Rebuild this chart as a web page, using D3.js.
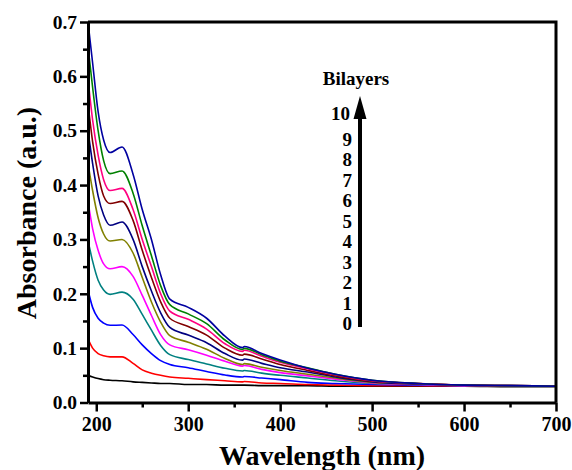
<!DOCTYPE html>
<html>
<head>
<meta charset="utf-8">
<script src="https://cdn.jsdelivr.net/npm/d3@7/dist/d3.min.js"></script>
<style>
  html, body { margin: 0; padding: 0; background: #fff; }
  svg { display: block; }
  text { font-family: "Liberation Serif", "Times New Roman", serif; font-weight: bold; fill: #000; }
</style>
</head>
<body>
<svg id="chart" width="572" height="470"></svg>
<script>
// Wavelength grid (nm) at which absorbance was read
const wavelength = [191, 196, 202, 208, 215, 228, 240, 250, 260, 270, 280, 300, 320, 340, 359, 361, 380, 400, 430, 460, 500, 550, 600, 650, 700];

// Absorbance (a.u.) per number of deposited bilayers
const bilayer0  = [0.050, 0.047, 0.044, 0.042, 0.041, 0.040, 0.038, 0.037, 0.036, 0.035, 0.035, 0.033, 0.033, 0.032, 0.032, 0.032, 0.031, 0.031, 0.031, 0.030, 0.030, 0.030, 0.030, 0.029, 0.029];
const bilayer1  = [0.117, 0.100, 0.090, 0.086, 0.084, 0.084, 0.072, 0.060, 0.054, 0.050, 0.047, 0.0445, 0.042, 0.040, 0.038, 0.0385, 0.036, 0.035, 0.033, 0.032, 0.031, 0.031, 0.030, 0.030, 0.030];
const bilayer2  = [0.207, 0.175, 0.155, 0.146, 0.142, 0.1425, 0.125, 0.106, 0.090, 0.077, 0.070, 0.064, 0.057, 0.0505, 0.047, 0.0478, 0.045, 0.042, 0.037, 0.035, 0.033, 0.032, 0.031, 0.030, 0.030];
const bilayer3  = [0.298, 0.260, 0.225, 0.207, 0.199, 0.203, 0.190, 0.162, 0.133, 0.105, 0.088, 0.079, 0.071, 0.063, 0.058, 0.059, 0.054, 0.050, 0.045, 0.040, 0.035, 0.033, 0.031, 0.030, 0.030];
const bilayer4  = [0.370, 0.320, 0.280, 0.255, 0.246, 0.250, 0.232, 0.197, 0.160, 0.125, 0.106, 0.097, 0.087, 0.076, 0.067, 0.068, 0.061, 0.055, 0.049, 0.043, 0.036, 0.033, 0.031, 0.030, 0.030];
const bilayer5  = [0.440, 0.390, 0.340, 0.310, 0.297, 0.300, 0.275, 0.230, 0.185, 0.148, 0.123, 0.111, 0.098, 0.081, 0.070, 0.0715, 0.065, 0.059, 0.052, 0.045, 0.037, 0.034, 0.032, 0.030, 0.030];
const bilayer6  = [0.500, 0.440, 0.380, 0.345, 0.326, 0.332, 0.300, 0.250, 0.205, 0.165, 0.138, 0.124, 0.110, 0.090, 0.078, 0.080, 0.072, 0.064, 0.056, 0.047, 0.038, 0.034, 0.032, 0.031, 0.030];
const bilayer7  = [0.550, 0.480, 0.420, 0.380, 0.366, 0.370, 0.335, 0.280, 0.230, 0.185, 0.155, 0.140, 0.124, 0.100, 0.087, 0.089, 0.080, 0.070, 0.059, 0.049, 0.039, 0.035, 0.032, 0.031, 0.030];
const bilayer8  = [0.595, 0.520, 0.455, 0.410, 0.390, 0.394, 0.355, 0.300, 0.250, 0.200, 0.168, 0.153, 0.135, 0.108, 0.094, 0.096, 0.085, 0.074, 0.062, 0.051, 0.040, 0.035, 0.032, 0.031, 0.030];
const bilayer9  = [0.655, 0.580, 0.500, 0.445, 0.421, 0.426, 0.385, 0.325, 0.270, 0.215, 0.180, 0.163, 0.145, 0.115, 0.0975, 0.0995, 0.088, 0.076, 0.064, 0.052, 0.041, 0.035, 0.032, 0.031, 0.030];
const bilayer10 = [0.700, 0.625, 0.535, 0.483, 0.460, 0.470, 0.420, 0.355, 0.300, 0.235, 0.190, 0.175, 0.155, 0.122, 0.101, 0.103, 0.090, 0.078, 0.063, 0.052, 0.041, 0.035, 0.032, 0.031, 0.030];

const seriesValues = [bilayer0, bilayer1, bilayer2, bilayer3, bilayer4, bilayer5, bilayer6, bilayer7, bilayer8, bilayer9, bilayer10];
const bilayerLabels = ["0", "1", "2", "3", "4", "5", "6", "7", "8", "9", "10"];
const seriesColors = ["#000000", "#ff0000", "#0000ff", "#008080", "#ff00ff", "#808000", "#000080", "#800000", "#ff0080", "#008000", "#0000a0"];

const xTicks = [200, 300, 400, 500, 600, 700];
const xMinorTicks = [250, 350, 450, 550, 650];
const yTicks = [0.0, 0.1, 0.2, 0.3, 0.4, 0.5, 0.6, 0.7];
const yMinorTicks = [0.05, 0.15, 0.25, 0.35, 0.45, 0.55, 0.65];

const svg = d3.select("#chart");
const plot = { left: 88, top: 22, right: 556, bottom: 402.5 };

const x = d3.scaleLinear().domain([191, 700]).range([plot.left, plot.right]);
const y = d3.scaleLinear().domain([0, 0.7]).range([plot.bottom, plot.top]);

// clip region for the spectra
svg.append("defs").append("clipPath").attr("id", "plot-clip")
  .append("rect")
  .attr("x", plot.left).attr("y", plot.top)
  .attr("width", plot.right - plot.left).attr("height", plot.bottom - plot.top);

// spectra
const line = d3.line()
  .x((d, i) => x(wavelength[i]))
  .y(d => y(d))
  .curve(d3.curveMonotoneX);

svg.append("g").attr("clip-path", "url(#plot-clip)")
  .selectAll("path")
  .data(seriesValues)
  .join("path")
  .attr("d", d => line(d))
  .attr("fill", "none")
  .attr("stroke", (d, i) => seriesColors[i])
  .attr("stroke-width", 1.6)
  .attr("stroke-linejoin", "round");

// frame (top and right edges)
svg.append("path")
  .attr("d", `M${plot.left},${plot.top}H${plot.right}V${plot.bottom}`)
  .attr("fill", "none").attr("stroke", "#000").attr("stroke-width", 3);

function styleAxis(g) {
  g.select(".domain").attr("stroke-width", 3);
  g.selectAll(".tick line").attr("stroke-width", 2.5);
}

// x axis
const xAxis = svg.append("g").attr("transform", `translate(0,${plot.bottom})`)
  .call(d3.axisBottom(x).tickValues(xTicks).tickSize(9).tickSizeOuter(0).tickPadding(5).tickFormat(d3.format("d")));
styleAxis(xAxis);
xAxis.selectAll("text").style("font-size", "20px").style("font-family", "Liberation Serif").style("font-weight", "bold");
svg.append("g").attr("transform", `translate(0,${plot.bottom})`)
  .call(d3.axisBottom(x).tickValues(xMinorTicks).tickSize(5).tickSizeOuter(0).tickFormat(""))
  .call(g => { g.select(".domain").remove(); g.selectAll(".tick line").attr("stroke-width", 2.5); });

// y axis
const yAxis = svg.append("g").attr("transform", `translate(${plot.left},0)`)
  .call(d3.axisLeft(y).tickValues(yTicks).tickSize(8).tickSizeOuter(0).tickPadding(3).tickFormat(d3.format(".1f")));
styleAxis(yAxis);
yAxis.selectAll("text").style("font-size", "19.5px").style("font-family", "Liberation Serif").style("font-weight", "bold");
svg.append("g").attr("transform", `translate(${plot.left},0)`)
  .call(d3.axisLeft(y).tickValues(yMinorTicks).tickSize(5).tickSizeOuter(0).tickFormat(""))
  .call(g => { g.select(".domain").remove(); g.selectAll(".tick line").attr("stroke-width", 2.5); });

// axis titles
svg.append("text")
  .attr("x", 322).attr("y", 465)
  .attr("text-anchor", "middle")
  .style("font-size", "28px")
  .text("Wavelength (nm)");

svg.append("text")
  .attr("transform", "translate(36,213) rotate(-90)")
  .attr("text-anchor", "middle")
  .style("font-size", "28px")
  .text("Absorbance (a.u.)");

// bilayer legend with arrow
svg.append("text")
  .attr("x", 356).attr("y", 85)
  .attr("text-anchor", "middle")
  .style("font-size", "19px")
  .text("Bilayers");

const labelY = d3.scaleLinear().domain([0, 9]).range([330, 146]);
svg.append("g").selectAll("text")
  .data(bilayerLabels)
  .join("text")
  .attr("x", (d, i) => i === 10 ? 350 : 352)
  .attr("y", (d, i) => i === 10 ? 120 : labelY(i))
  .attr("text-anchor", "end")
  .style("font-size", "19px")
  .text(d => d);

svg.append("line")
  .attr("x1", 360).attr("x2", 360)
  .attr("y1", 327).attr("y2", 116)
  .attr("stroke", "#000").attr("stroke-width", 4);
svg.append("path")
  .attr("d", "M360,96L366.5,119L353.5,119Z")
  .attr("fill", "#000");
</script>
</body>
</html>
